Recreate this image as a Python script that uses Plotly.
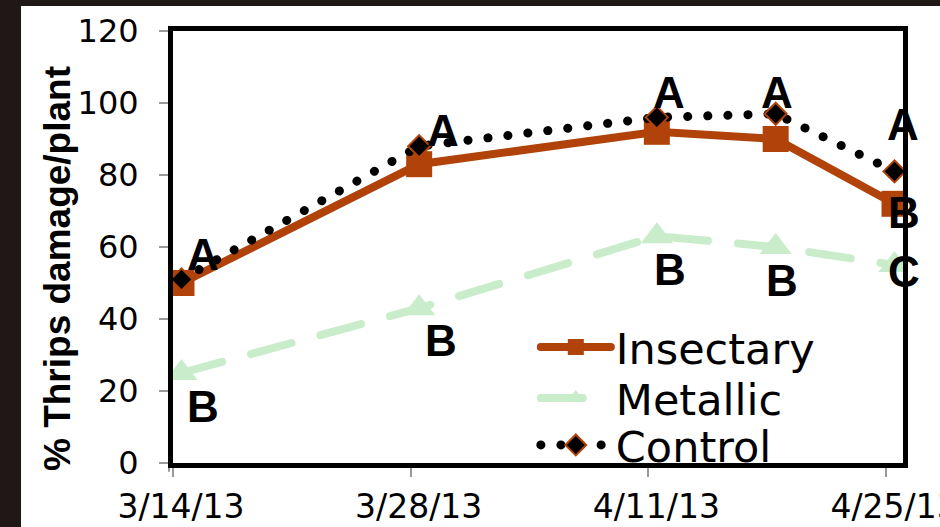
import plotly.graph_objects as go

# Sampling dates (midday) and tick labels
dates = ["2013-03-14 12:00", "2013-03-28 12:00", "2013-04-11 12:00",
         "2013-04-18 12:00", "2013-04-25 12:00"]
tick_dates = ["2013-03-14", "2013-03-28", "2013-04-11", "2013-04-25"]
tick_labels = ["3/14/13", "3/28/13", "4/11/13", "4/25/13"]

# % thrips damage per plant
insectary = [50, 83, 92, 90, 72]
metallic = [25, 43, 63, 60, 55]
control = [51, 88, 96, 97, 81]

# Mean-separation letters: date index, letter, height on value axis, pixel nudge
sig_index = [0, 0, 1, 1, 2, 2, 3, 3, 4, 4, 4]
sig_text = ["A", "B", "A", "B", "A", "B", "A", "B", "A", "B", "C"]
sig_y = [57.9, 15.8, 92.5, 34.0, 102.9, 53.8, 102.9, 50.8, 93.9, 69.6, 53.2]
sig_dx = [22, 22, 24, 22, 12, 13, 1, 6, 8, 9, 9]

ORANGE = "#B0420A"
GREEN = "#C9EDCB"
DARK = "#201816"

fig = go.Figure()
fig.add_trace(go.Scatter(
    x=dates, y=insectary, name="Insectary", mode="lines+markers", legend="legend",
    line=dict(color=ORANGE, width=8),
    marker=dict(symbol="square", size=26, color=ORANGE),
))
fig.add_trace(go.Scatter(
    x=dates, y=metallic, name="Metallic", mode="lines+markers", legend="legend2",
    line=dict(color=GREEN, width=8, dash="42px,30px"),
    marker=dict(symbol="triangle-up", size=28, color=GREEN),
))
fig.add_trace(go.Scatter(
    x=dates, y=control, name="Control", mode="lines+markers", legend="legend3",
    line=dict(color="black", width=9, dash="0.1px,20px"),
    marker=dict(symbol="diamond", size=17, color="black",
                line=dict(color=ORANGE, width=2)),
))

for i, t, y, dx in zip(sig_index, sig_text, sig_y, sig_dx):
    fig.add_annotation(
        x=dates[i], y=y, text="<b>%s</b>" % t, showarrow=False, xshift=dx,
        font=dict(family="Liberation Sans", size=44, color="black"),
    )

# value-axis title
fig.add_annotation(
    xref="paper", yref="paper", x=-0.1589, y=0.449, textangle=-90,
    xanchor="center", yanchor="middle",
    text="<b>% Thrips damage/plant</b>", showarrow=False,
    font=dict(family="Liberation Sans", size=37, color="black"),
)

# dark frame strips along the top and left edges of the page
fig.add_shape(type="rect", xref="paper", yref="paper",
              x0=-0.26, x1=-0.2082, y0=-0.2, y1=1.1,
              fillcolor=DARK, line_width=0, layer="below")
fig.add_shape(type="rect", xref="paper", yref="paper",
              x0=-0.26, x1=1.1, y0=1.0579, y1=1.1,
              fillcolor=DARK, line_width=0, layer="below")
# thin grey axis rule just outside the black left border
fig.add_shape(type="line", xref="paper", yref="paper",
              x0=-0.0055, x1=-0.0055, y0=-0.02, y1=1.0,
              line=dict(color="#999999", width=2), layer="below")

legend_style = dict(
    x=0.497, xanchor="left", yanchor="middle",
    bgcolor="rgba(0,0,0,0)", itemwidth=70,
    font=dict(family="DejaVu Sans", size=43, color="black"),
)

fig.update_layout(
    template="none",
    width=940, height=527,
    margin=dict(l=173, r=37, t=31, b=64),
    paper_bgcolor="white", plot_bgcolor="white",
    showlegend=True,
    legend=dict(y=0.2685, **legend_style),
    legend2=dict(y=0.1505, **legend_style),
    legend3=dict(y=0.0417, **legend_style),
    xaxis=dict(
        type="date", range=["2013-03-14", "2013-04-26"],
        tickvals=tick_dates, ticktext=tick_labels,
        showgrid=False, zeroline=False, automargin=False,
        ticklabeloverflow="allow", ticklabelstandoff=1, ticklabelshift=8,
        showline=True, linecolor="black", linewidth=5, mirror=True,
        ticks="outside", ticklen=9, tickwidth=2, tickcolor="#999999",
        tickfont=dict(family="DejaVu Sans", size=33, color="black"),
    ),
    yaxis=dict(
        range=[0, 120], tickvals=[0, 20, 40, 60, 80, 100, 120],
        showgrid=False, zeroline=False, automargin=False,
        ticklabelstandoff=14,
        showline=True, linecolor="black", linewidth=5, mirror=True,
        ticks="outside", ticklen=9, tickwidth=2, tickcolor="#999999",
        tickfont=dict(family="DejaVu Sans", size=32, color="black"),
    ),
)

round_caps = """
document.querySelectorAll('.scatterlayer .js-line, .legendlines path').forEach(function (p) {
    p.style.strokeLinecap = 'round';
});
"""

fig.write_html("out.html", post_script=round_caps)
